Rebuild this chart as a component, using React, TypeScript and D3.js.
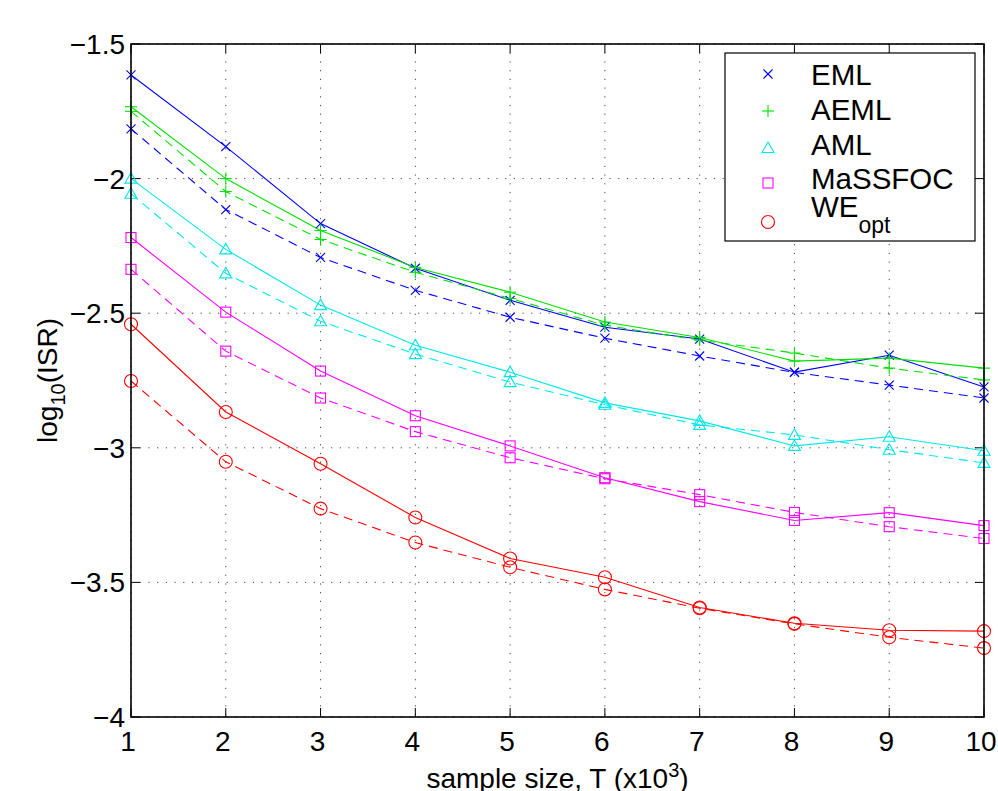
import React from "react";
import { scaleLinear, line } from "d3";

const width = 998;
const height = 791;

const margin = {
  top: 44,
  right: 14,
  bottom: 74,
  left: 131
};

const innerWidth = width - margin.left - margin.right;
const innerHeight = height - margin.top - margin.bottom;

const font = "'Liberation Sans', Arial, Helvetica, sans-serif";

// sample size T (x10^3)
const sampleSizes = [1, 2, 3, 4, 5, 6, 7, 8, 9, 10];
const xTicks = [1, 2, 3, 4, 5, 6, 7, 8, 9, 10];
const yTicks = [-4, -3.5, -3, -2.5, -2, -1.5];
const yTickLabels = ["\u22124", "\u22123.5", "\u22123", "\u22122.5", "\u22122", "\u22121.5"];

// log10(ISR), solid and dashed curve for each method
const emlSolid = [-1.615, -1.881, -2.167, -2.333, -2.452, -2.552, -2.596, -2.719, -2.656, -2.774];
const emlDashed = [-1.815, -2.115, -2.293, -2.415, -2.515, -2.593, -2.659, -2.72, -2.767, -2.815];
const aemlSolid = [-1.733, -2.0, -2.193, -2.33, -2.422, -2.533, -2.59, -2.678, -2.667, -2.704];
const aemlDashed = [-1.75, -2.048, -2.226, -2.348, -2.445, -2.545, -2.6, -2.648, -2.704, -2.748];
const amlSolid = [-2.0, -2.263, -2.47, -2.619, -2.719, -2.833, -2.9, -2.993, -2.959, -3.011];
const amlDashed = [-2.056, -2.352, -2.53, -2.652, -2.756, -2.84, -2.915, -2.952, -3.007, -3.056];
const massfocSolid = [-2.219, -2.496, -2.715, -2.881, -2.993, -3.111, -3.2, -3.27, -3.241, -3.289];
const massfocDashed = [-2.337, -2.641, -2.815, -2.94, -3.037, -3.115, -3.174, -3.24, -3.293, -3.337];
const weSolid = [-2.541, -2.867, -3.059, -3.259, -3.411, -3.481, -3.593, -3.652, -3.678, -3.681];
const weDashed = [-2.752, -3.052, -3.226, -3.352, -3.444, -3.526, -3.596, -3.654, -3.704, -3.744];

const seriesNames = ["EML", "AEML", "AML", "MaSSFOC", "WE"];
const seriesColors = ["#0000ff", "#00e000", "#00e8e8", "#ff00ff", "#ff0000"];
const seriesMarkers = ["x", "+", "triangle", "square", "circle"];
const solidValues = [emlSolid, aemlSolid, amlSolid, massfocSolid, weSolid];
const dashedValues = [emlDashed, aemlDashed, amlDashed, massfocDashed, weDashed];

const Marker = ({ type, color, cx, cy }) => {
  const common = { fill: "none", stroke: color, strokeWidth: 1.1 };
  if (type === "x") {
    const s = 4.5;
    return (
      <g {...common}>
        <line x1={cx - s} y1={cy - s} x2={cx + s} y2={cy + s} />
        <line x1={cx - s} y1={cy + s} x2={cx + s} y2={cy - s} />
      </g>
    );
  }
  if (type === "+") {
    const s = 6;
    return (
      <g {...common}>
        <line x1={cx - s} y1={cy} x2={cx + s} y2={cy} />
        <line x1={cx} y1={cy - s} x2={cx} y2={cy + s} />
      </g>
    );
  }
  if (type === "triangle") {
    return <path {...common} d={`M${cx},${cy - 6}L${cx + 6},${cy + 4.5}L${cx - 6},${cy + 4.5}Z`} />;
  }
  if (type === "square") {
    return <rect {...common} x={cx - 5} y={cy - 5} width={10} height={10} />;
  }
  return <circle {...common} cx={cx} cy={cy} r={6.5} />;
};

export default function App() {
  const xScale = scaleLinear().domain([1, 10]).range([0, innerWidth]);
  const yScale = scaleLinear().domain([-4, -1.5]).range([innerHeight, 0]);

  const path = line<number>()
    .x((d, i) => xScale(sampleSizes[i]))
    .y((d) => yScale(d));

  const legendRows = [74, 111, 148, 183, 222];
  const legendText = [85, 120, 155, 189, 217];

  return (
    <svg
      width={width}
      height={height}
      style={{ position: "absolute", left: 0, top: 0, background: "#fff" }}
      fontFamily={font}
    >
      <rect width={width} height={height} fill="#fff" />
      <g transform={`translate(${margin.left}, ${margin.top})`}>
        {/* grid */}
        {xTicks.map((t) => (
          <line
            key={"gx" + t}
            x1={xScale(t)}
            x2={xScale(t)}
            y1={0}
            y2={innerHeight}
            stroke="#444"
            strokeWidth={1}
            strokeDasharray="1.2,7.5"
          />
        ))}
        {yTicks.map((t) => (
          <line
            key={"gy" + t}
            x1={0}
            x2={innerWidth}
            y1={yScale(t)}
            y2={yScale(t)}
            stroke="#444"
            strokeWidth={1}
            strokeDasharray="1.2,7.5"
          />
        ))}

        {/* ticks */}
        {xTicks.map((t) => (
          <g key={"tx" + t} stroke="#000" strokeWidth={1}>
            <line x1={xScale(t)} x2={xScale(t)} y1={innerHeight} y2={innerHeight - 9} />
            <line x1={xScale(t)} x2={xScale(t)} y1={0} y2={9} />
          </g>
        ))}
        {yTicks.map((t) => (
          <g key={"ty" + t} stroke="#000" strokeWidth={1}>
            <line x1={0} x2={9} y1={yScale(t)} y2={yScale(t)} />
            <line x1={innerWidth} x2={innerWidth - 9} y1={yScale(t)} y2={yScale(t)} />
          </g>
        ))}

        {/* lines */}
        {seriesNames.map((name, k) => (
          <g key={name}>
            <path d={path(solidValues[k])} fill="none" stroke={seriesColors[k]} strokeWidth={1.1} />
            <path
              d={path(dashedValues[k])}
              fill="none"
              stroke={seriesColors[k]}
              strokeWidth={1.1}
              strokeDasharray="9,6"
            />
          </g>
        ))}

        {/* markers */}
        {seriesNames.map((name, k) => (
          <g key={"m" + name}>
            {solidValues[k].map((v, i) => (
              <Marker key={"s" + i} type={seriesMarkers[k]} color={seriesColors[k]} cx={xScale(sampleSizes[i])} cy={yScale(v)} />
            ))}
            {dashedValues[k].map((v, i) => (
              <Marker key={"d" + i} type={seriesMarkers[k]} color={seriesColors[k]} cx={xScale(sampleSizes[i])} cy={yScale(v)} />
            ))}
          </g>
        ))}

        {/* axes box */}
        <rect x={0} y={0} width={innerWidth} height={innerHeight} fill="none" stroke="#000" strokeWidth={1.6} />

        {/* tick labels */}
        {xTicks.map((t) => (
          <text key={"lx" + t} x={xScale(t) - 3} y={innerHeight + 34} fontSize={28} textAnchor="middle">
            {t}
          </text>
        ))}
        {yTicks.map((t, i) => (
          <text key={"ly" + t} x={-6} y={yScale(t)} dy="0.36em" fontSize={28} textAnchor="end">
            {yTickLabels[i]}
          </text>
        ))}

        {/* axis labels */}
        <text x={innerWidth / 2} y={innerHeight + 71} fontSize={28} textAnchor="middle">
          sample size, T (x10
          <tspan dy={-11} fontSize={20}>3</tspan>
          <tspan dy={11}>)</tspan>
        </text>
        <text
          transform={`translate(${57 - margin.left}, ${innerHeight / 2}) rotate(-90)`}
          fontSize={28}
          textAnchor="middle"
        >
          log
          <tspan dy={8} fontSize={20}>10</tspan>
          <tspan dy={-8}>(ISR)</tspan>
        </text>
      </g>

      {/* legend */}
      <g>
        <rect x={725} y={53} width={250} height={188} fill="#fff" stroke="#000" strokeWidth={1.2} />
        {seriesNames.map((name, k) => (
          <g key={"lg" + name}>
            <Marker type={seriesMarkers[k]} color={seriesColors[k]} cx={768} cy={legendRows[k]} />
            <text x={811} y={legendText[k]} fontSize={29.5}>
              {name}
              {name === "WE" ? (
                <tspan dy={16} fontSize={23}>opt</tspan>
              ) : null}
            </text>
          </g>
        ))}
      </g>
    </svg>
  );
}
